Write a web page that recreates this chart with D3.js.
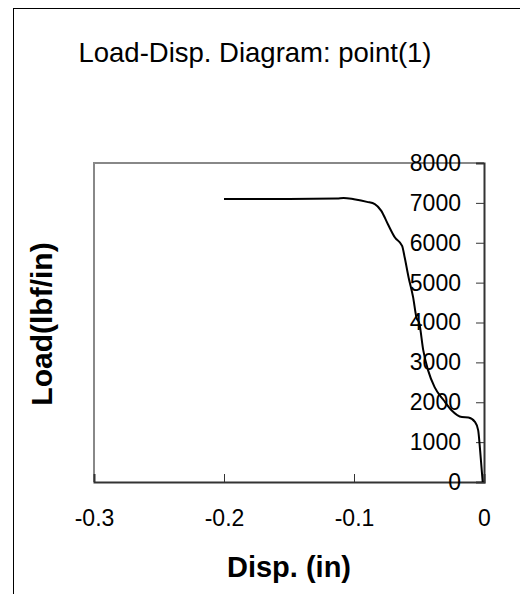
<!DOCTYPE html>
<html>
<head>
<meta charset="utf-8">
<script src="https://cdn.jsdelivr.net/npm/d3@7"></script>
<style>
  body { margin: 0; background: #fff; }
  text { font-family: Arial, "Liberation Sans", sans-serif; fill: #000; }
</style>
</head>
<body>
<div id="chart"></div>
<script>
// constants for page set up
const FRAME_WIDTH = 520;
const FRAME_HEIGHT = 594;
const PLOT = {left: 94, right: 484, top: 163, bottom: 482};

// data
const DISP = [-0.2, -0.15, -0.113, -0.108, -0.1, -0.09, -0.084, -0.079, -0.074, -0.0685,
  -0.063, -0.061, -0.058, -0.0545, -0.052, -0.0497, -0.0467, -0.043, -0.038, -0.031,
  -0.025, -0.017, -0.012, -0.007, -0.0045, -0.003, -0.001];
const LOAD = [7100, 7100, 7110, 7125, 7090, 7025, 6970, 6800, 6470, 6130,
  5920, 5630, 5130, 4630, 4130, 3970, 3300, 2800, 2380, 2050,
  1800, 1630, 1620, 1510, 1300, 800, 0];
const X_TICKS = [-0.3, -0.2, -0.1, 0];
const X_TICK_LABELS = ["-0.3", "-0.2", "-0.1", "0"];
const Y_TICKS = [0, 1000, 2000, 3000, 4000, 5000, 6000, 7000, 8000];

const FRAME = d3.select("#chart")
  .append("svg")
  .attr("width", FRAME_WIDTH)
  .attr("height", FRAME_HEIGHT);

// outer chart border (runs off the page at right and bottom)
FRAME.append("rect")
  .attr("x", 13.5).attr("y", 8.5)
  .attr("width", 700).attr("height", 700)
  .attr("fill", "none")
  .attr("stroke", "#000")
  .attr("stroke-width", 1);

const X_SCALE = d3.scaleLinear().domain([-0.3, 0]).range([PLOT.left, PLOT.right]);
const Y_SCALE = d3.scaleLinear().domain([0, 8000]).range([PLOT.bottom, PLOT.top]);

// gray plot border, left and top
FRAME.append("path")
  .attr("d", "M" + PLOT.left + "," + PLOT.bottom + "V" + PLOT.top + "H" + X_SCALE(0))
  .attr("fill", "none")
  .attr("stroke", "#888")
  .attr("stroke-width", 2);

// title
FRAME.append("text")
  .attr("x", 255).attr("y", 62)
  .attr("text-anchor", "middle")
  .attr("font-size", "27.5px")
  .text("Load-Disp. Diagram: point(1)");

// x axis
const xAxis = FRAME.append("g")
  .attr("transform", "translate(0," + Y_SCALE(0) + ")")
  .call(d3.axisTop(X_SCALE).tickValues(X_TICKS).tickSize(8).tickFormat(""));
xAxis.select(".domain").attr("stroke", "#333").attr("stroke-width", 2);
xAxis.selectAll(".tick line").attr("stroke", "#333");
xAxis.selectAll(".tick text").remove();
xAxis.selectAll(".tick")
  .append("text")
  .attr("y", 44)
  .attr("text-anchor", "middle")
  .attr("font-size", "23px")
  .text((d, i) => { return X_TICK_LABELS[i]; });

// y axis at x = 0, labels on the inside
const yAxis = FRAME.append("g")
  .attr("transform", "translate(" + X_SCALE(0) + ",0)")
  .call(d3.axisLeft(Y_SCALE).tickValues(Y_TICKS).tickSize(8).tickFormat(d3.format("d")));
yAxis.select(".domain").attr("stroke", "#333").attr("stroke-width", 2);
yAxis.selectAll(".tick line").attr("stroke", "#333");
yAxis.selectAll(".tick text")
  .attr("x", -23)
  .attr("font-size", "23px")
  .attr("font-family", "Arial, 'Liberation Sans', sans-serif")
  .attr("fill", "#000");

// axis titles
FRAME.append("text")
  .attr("x", 289).attr("y", 577)
  .attr("text-anchor", "middle")
  .attr("font-size", "29px")
  .attr("font-weight", "bold")
  .text("Disp. (in)");

FRAME.append("text")
  .attr("transform", "translate(52,324) rotate(-90)")
  .attr("text-anchor", "middle")
  .attr("font-size", "30px")
  .attr("font-weight", "bold")
  .text("Load(lbf/in)");

// load-displacement curve
const line = d3.line()
  .x((d, i) => { return X_SCALE(DISP[i]); })
  .y((d, i) => { return Y_SCALE(LOAD[i]); })
  .curve(d3.curveMonotoneX);

FRAME.append("path")
  .datum(DISP)
  .attr("d", line)
  .attr("fill", "none")
  .attr("stroke", "#000")
  .attr("stroke-width", 2);
</script>
</body>
</html>
